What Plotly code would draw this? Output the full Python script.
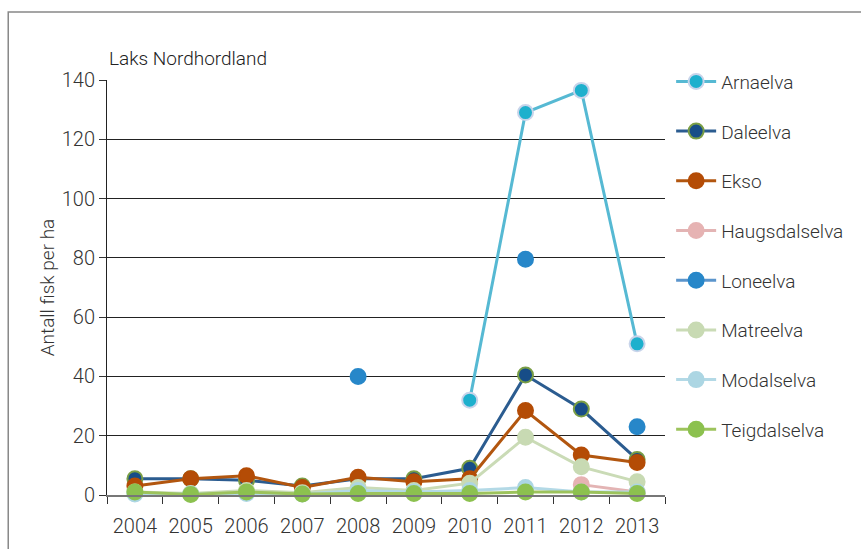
import plotly.graph_objects as go

years = ["2004", "2005", "2006", "2007", "2008", "2009", "2010", "2011", "2012", "2013"]

arnaelva = [None, None, None, None, None, None, 32, 129, 136.5, 51]
daleelva = [5.5, 5.5, 5, 3, 5.5, 5.5, 9, 40.5, 29, 12]
ekso = [3, 5.5, 6.5, 2.5, 6, 4.5, 5.5, 28.5, 13.5, 11]
haugsdalselva = [None, None, None, None, None, None, None, None, 3.5, 1]
loneelva = [None, None, None, None, 40, None, None, 79.5, None, 23]
matreelva = [1, 0.5, 1.5, 0.8, 2.5, 1.5, 4, 19.5, 9.5, 4.5]
modalselva = [0.3, 0.3, 0.5, 0.3, 1.5, 1, 1.5, 2.5, 1, 1]
teigdalselva = [1, 0.2, 1, 0.3, 0.5, 0.5, 0.5, 1, 1, 0.5]

series = [
    ("Arnaelva", arnaelva, "#56b9d3", "#1eb0cd", "#c8d4ea"),
    ("Daleelva", daleelva, "#2b5c90", "#174d88", "#7a9e45"),
    ("Ekso", ekso, "#b2560f", "#b44c06", "#b44c06"),
    ("Haugsdalselva", haugsdalselva, "#e3b4b4", "#e6b3b3", "#e6b3b3"),
    ("Loneelva", loneelva, "#5b95cc", "#2787c9", "#2787c9"),
    ("Matreelva", matreelva, "#cadbb6", "#c8dab3", "#c8dab3"),
    ("Modalselva", modalselva, "#b3d9e6", "#acd6e3", "#acd6e3"),
    ("Teigdalselva", teigdalselva, "#9dc35c", "#8cc14f", "#8cc14f"),
]

fig = go.Figure()
for i, (name, vals, lc, mc, mlc) in enumerate(series):
    fig.add_trace(go.Scatter(
        x=years, y=vals, name=name, mode="lines+markers",
        legendgroup=f"g{i}",
        line=dict(color=lc, width=3),
        marker=dict(size=15, color=mc, line=dict(color=mlc, width=2)),
        connectgaps=False, cliponaxis=False,
    ))

fnt = "Roboto, 'DejaVu Sans', sans-serif"
fig.update_layout(
    width=861, height=549,
    margin=dict(l=107, r=189, t=80, b=54),
    paper_bgcolor="white", plot_bgcolor="white",
    font=dict(family=fnt, size=19, color="#333333", weight=300),
    showlegend=True,
    legend=dict(x=1.011, y=1.042, xanchor="left", yanchor="top",
                tracegroupgap=22, font=dict(size=19, color="#333333"),
                itemwidth=40, bgcolor="rgba(0,0,0,0)", maxheight=520),
    xaxis=dict(type="category", range=[-0.5, 9.5], tickson="boundaries",
               ticks="outside", ticklen=7,
               tickcolor="#333333", showline=True, linecolor="#777777", linewidth=2,
               showgrid=False, tickfont=dict(size=20), ticklabelstandoff=12),
    yaxis=dict(range=[0, 140], dtick=20, ticks="outside", ticklen=7,
               tickcolor="#333333", showline=True, linecolor="#222222", linewidth=1,
               showgrid=True, gridcolor="#222222", gridwidth=1, zeroline=False,
               tickfont=dict(size=20),
               title=dict(text="Antall fisk per ha", font=dict(size=19), standoff=2)),
    annotations=[dict(text="Laks Nordhordland", xref="paper", yref="paper",
                      x=0, y=1.02, xanchor="left", yanchor="bottom",
                      showarrow=False, font=dict(size=19, color="#222222"))],
    shapes=[dict(type="rect", xref="paper", yref="paper",
                 x0=-0.177, x1=1.4, y0=-0.2, y1=1.164,
                 line=dict(color="#888888", width=1.5), layer="below")],
)

fig.write_html("out.html", config={"displayModeBar": False},
               post_script="document.body.style.margin='0';document.body.style.overflow='hidden';")
